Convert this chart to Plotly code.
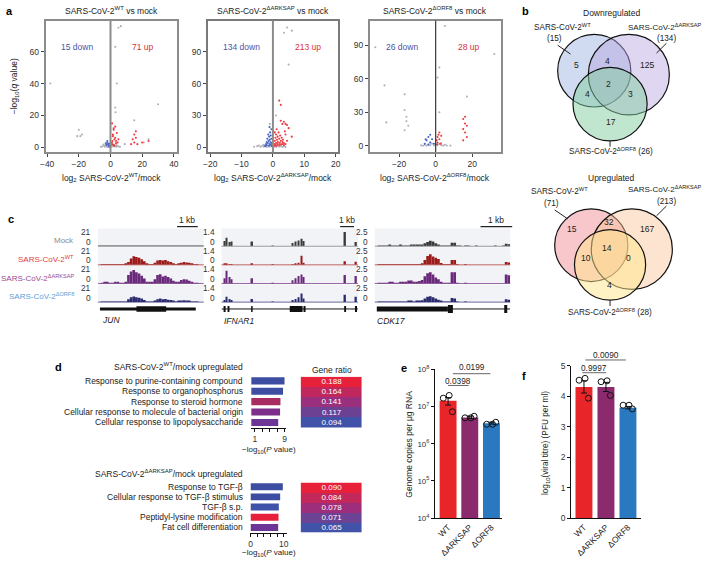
import plotly.graph_objects as go

W, H = 704, 565
FONT = "Liberation Sans, Arial, Helvetica, sans-serif"
INK = "#222222"

# ---------------- data ----------------
# Panel a: volcano points (log2 fold change, -log10 q value)
wt_gray = [(-38, 40), (5, 75), (6.5, 76), (3, 63), (4, 40), (3, 25), (3.2, 22), (15, 17), (30, 27),
           (-20, 11), (-19, 7), (-21, 7), (-18, 8), (9, 2), (21, 3), (24, 5),
           (-6, 0.3), (-5, 0.6), (-4, 1.0), (-3.5, 0.4), (-3, 1.5), (-2.5, 0.7), (-2, 2.0), (-1.5, 0.5),
           (-1, 1.2), (-0.5, 0.3), (0.5, 0.4), (1, 1.4), (1.5, 0.6), (2, 1.8), (2.5, 0.5), (3, 1.1),
           (3.5, 0.7), (4, 0.4), (5, 0.6), (6, 0.3), (-4.5, 1.8), (-2, 0.2), (0, 2.5), (2, 0.9), (4, 1.3)]
wt_red = [(1, 2), (1.2, 4), (1.5, 8), (2, 1.5), (2, 11), (2.5, 5), (3, 6), (3, 13), (3.5, 2.5), (4, 9),
          (4.5, 3), (5, 5), (1, 15), (1.5, 7), (2, 12), (0.8, 3), (2.5, 1), (3.5, 4), (14, 5), (15, 8),
          (15, 3), (16, 6), (16, 10), (17, 2), (20, 3), (24, 4), (13, 2)]
wt_blue = [(-1, 1), (-1.5, 2), (-2, 3), (-2.5, 1.5), (-3, 2.5), (-1, 0.5), (-2, 4), (-0.8, 2.2)]

ark_gray = [(4.5, 113), (3.5, 108), (6, 110), (5, 78), (-1, 22), (1, 30), (-6, 0.5), (-5, 1), (-4, 0.4),
            (-3.5, 1.2), (-3, 0.6), (-2.5, 1.8), (-2, 0.3), (-1.5, 1), (-1, 0.5), (0.5, 0.8), (1, 0.3),
            (1.5, 1.4), (2, 0.5), (2.5, 1), (3, 0.4), (3.5, 0.8), (4, 0.3), (-4.5, 1.6), (-3, 2.2),
            (0, 1.5), (-0.5, 2.5)]
ark_red = [(0.3, 1), (0.5, 3), (0.6, 6), (0.8, 2), (0.8, 9), (1, 4), (1, 12), (1.2, 1.5), (1.3, 7), (1.5, 3),
           (1.5, 10), (1.6, 5), (1.8, 14), (2, 2), (2, 8), (2.2, 4), (2.3, 11), (2.5, 6), (2.6, 2.5), (2.8, 9),
           (3, 3), (3, 5), (3.2, 7), (3.5, 2), (3.5, 4), (4, 3), (4, 12), (4.5, 6), (5, 18), (6, 10),
           (2, 44), (2.5, 40), (2.5, 25), (3, 22), (3.5, 24), (4, 22), (4.5, 21), (3.8, 15), (1.2, 17), (0.6, 14)]
ark_blue = [(-0.3, 1), (-0.4, 4), (-0.5, 8), (-0.6, 2), (-0.7, 11), (-0.8, 5), (-0.9, 14), (-1, 3), (-1, 7),
            (-1.2, 10), (-1.3, 1.5), (-1.4, 6), (-1.5, 12), (-1.6, 4), (-1.8, 8), (-2, 2), (-2, 5),
            (-2.2, 3), (-2.5, 1), (-0.5, 17), (-1.1, 19)]

orf8_gray = [(-33, 88), (-28, 54), (-27, 21), (-17, 46), (-17, 32), (-16, 26), (-16, 22), (-17, 14), (-15, 18),
             (5, 107), (32, 82), (17, 44), (2, 70), (1, 61), (2, 30), (-8, 0.5), (-6, 1), (-5, 0.3),
             (-4, 1.5), (-3, 0.6), (-2, 2), (-1, 0.4), (0, 1.2), (1, 0.5), (2, 1.8), (3, 0.7), (4, 0.3),
             (5, 1), (6, 0.4), (8, 0.3), (-3, 3), (3, 2.5), (-7, 0.2)]
orf8_red = [(16, 26), (15, 24), (16, 20), (15, 15), (17, 18), (16, 12), (17, 8), (15, 5), (0.5, 5), (1, 8),
            (1.5, 10), (2, 6), (1, 3), (2.5, 2), (3, 9), (0.8, 1.5), (2, 12)]
orf8_blue = [(-5, 5), (-4, 8), (-3, 3), (-6, 2), (-4, 1), (-2, 6), (-1, 2), (-3, 10), (-5.5, 6)]

volcano_titles = ["SARS-CoV-2<sup>WT</sup> vs mock", "SARS-CoV-2<sup>ΔARKSAP</sup> vs mock",
                  "SARS-CoV-2<sup>ΔORF8</sup> vs mock"]
volcano_xtitles = ["log<sub>2</sub> SARS-CoV-2<sup>WT</sup>/mock", "log<sub>2</sub> SARS-CoV-2<sup>ΔARKSAP</sup>/mock",
                   "log<sub>2</sub> SARS-CoV-2<sup>ΔORF8</sup>/mock"]
down_counts = [15, 134, 26]
up_counts = [71, 213, 28]

# Panel b: Venn region counts  (A only, AB, B only, ABC, AC, BC, C only)
venn_down = [5, 4, 125, 2, 4, 3, 17]
venn_up = [15, 32, 167, 14, 10, 0, 4]

# Panel c: coverage tracks
samples = ["Mock", "SARS-CoV-2<sup>WT</sup>", "SARS-CoV-2<sup>ΔARKSAP</sup>", "SARS-CoV-2<sup>ΔORF8</sup>"]
jun_mock = [0.1, 0.1, 0.2, 0.2, 0.1, 0.1, 0.2, 0.1, 0.1, 0.1, 0.1, 0.2, 0.2, 0.3, 0.9, 0.3, 0.2, 0.1, 0.1, 0.1,
            0.1, 0.1, 0.2, 0.2, 0.1, 0.2, 0.2, 0.1, 0.1, 0.1, 0.1, 0.1, 0.2, 0.1, 0.1, 0.1, 0.1, 0.1, 0.1, 0.1]
jun_wt = [0, 0.3, 0.8, 0.5, 0.2, 0.3, 0.8, 0.4, 0.2, 0.2, 1, 4, 9, 12, 11, 10, 8, 5, 1, 0.5,
          0.5, 3, 6, 7, 6, 7, 5, 4, 2, 0.8, 1.5, 3, 4, 3.5, 3, 1.5, 0.4, 0.2, 0, 0]
jun_ark = [0, 0.5, 1.5, 1, 0.5, 0.5, 1.5, 1, 0.5, 0.5, 2, 12, 17, 19, 16, 14, 11, 7, 2, 1,
           1, 6, 12, 13, 10, 11, 9, 7, 4, 1.5, 2.5, 5, 6, 5.5, 4, 2, 0.5, 0.3, 0, 0]
jun_orf8 = [0, 0.2, 0.5, 0.3, 0.2, 0.2, 0.5, 0.3, 0.2, 0.2, 0.6, 4, 7, 8, 7, 6, 5, 3, 0.6, 0.3,
            0.3, 2, 4, 5, 4, 4.5, 3.5, 3, 1.5, 0.5, 1, 2, 2.5, 2, 1.5, 0.8, 0.3, 0.1, 0, 0]

ifnar_pos = [2.2, 3.6, 5.8, 7.2, 22.5, 37.7, 52.2, 54.3, 56.5, 58.7, 60.1, 90.6, 98.6]
ifnar_mock = [0.5, 0.8, 0.4, 0.45, 0.45, 0.05, 0.3, 0.45, 0.55, 0.7, 0.5, 1.35, 0.4]
ifnar_wt = [0.1, 0.15, 0.05, 0.05, 0.1, 0.03, 0.05, 0.1, 0.2, 0.85, 0.2, 0.35, 0.3]
ifnar_ark = [0.5, 1.2, 0.6, 0.4, 0.5, 0.05, 0.3, 0.5, 0.7, 0.85, 0.6, 0.8, 0.7]
ifnar_orf8 = [0.2, 0.5, 0.3, 0.2, 0.3, 0.03, 0.2, 0.3, 0.45, 0.8, 0.35, 0.7, 0.5]

cdk_mock = [0, 0.05, 0.1, 0.05, 0.1, 0.15, 0.1, 0.05, 0.1, 0.15,
            0.1, 0.05, 0.1, 0.15, 0.2, 0.15, 0.2, 0.3, 0.5, 0.7,
            0.9, 0.8, 0.5, 0.3, 0.1, 0.05, 0.05, 0.02, 0.6, 0.6,
            0.05, 0.02, 0, 0.05, 0.02, 0, 0, 0.02, 0, 0,
            0, 0, 0, 0, 0.02, 0, 0, 0.02, 0.4, 0.35]
cdk_wt = [0, 0.02, 0.05, 0.02, 0.05, 0.05, 0.05, 0.02, 0.05, 0.05,
          0.05, 0.02, 0.05, 0.05, 0.1, 0.05, 0.1, 0.2, 0.8, 1.5,
          1.8, 1.4, 1.2, 1.0, 0.3, 0.05, 0.03, 0.02, 0.8, 0.8,
          0.02, 0, 0, 0.02, 0, 0, 0, 0, 0, 0,
          0, 0, 0, 0, 0, 0, 0, 0, 0.5, 0.4]
cdk_ark = [0, 0.05, 0.1, 0.1, 0.1, 0.2, 0.15, 0.1, 0.1, 0.2,
           0.15, 0.2, 0.5, 0.5, 0.2, 0.3, 0.4, 0.6, 1.2, 1.7,
           1.9, 1.5, 1.0, 0.7, 0.3, 0.1, 0.05, 0.05, 1.9, 1.9,
           0.05, 0, 0, 0.05, 0, 0, 0, 0, 0, 0,
           0, 0, 0, 0, 0, 0, 0, 0, 1.5, 1.4]
cdk_orf8 = [0, 0.03, 0.08, 0.05, 0.08, 0.1, 0.08, 0.05, 0.08, 0.1,
            0.08, 0.05, 0.2, 0.2, 0.1, 0.15, 0.2, 0.3, 0.6, 0.9,
            1.0, 0.8, 0.6, 0.4, 0.15, 0.05, 0.03, 0.02, 0.7, 0.6,
            0.03, 0, 0, 0.03, 0, 0, 0, 0, 0, 0,
            0, 0, 0, 0, 0, 0, 0, 0, 0.5, 0.4]
track_max = [21, 1.4, 2.5]
track_max_labels = ["21", "1.4", "2.5"]
gene_names = ["JUN", "IFNAR1", "CDK17"]

# gene models (genomic units 0-100 within each window)
jun_utr = [(1.9, 92.5)]
jun_cds = [(36.4, 64.5)]
ifnar_exons = [(1.5, 3.0), (4.4, 5.8), (21.7, 22.8), (50.0, 59.4), (60.1, 61.6), (89.9, 91.3), (97.8, 99.3)]
cdk_cds = [(1.5, 54.0)]
cdk_exons = [(54.0, 57.7), (95.6, 97.8)]

# Panel d
d1_terms = ["Response to purine-containing compound", "Response to organophosphorus",
            "Response to steroid hormone", "Cellular response to molecule of bacterial origin",
            "Cellular response to lipopolysaccharide"]
d1_vals = [9.0, 8.6, 7.9, 7.8, 7.3]
d1_ratio = [0.188, 0.164, 0.141, 0.117, 0.094]
d1_colors = ["#3d4ea2", "#3d4ea2", "#a82c62", "#7d2e8a", "#6c3596"]
d2_terms = ["Response to TGF-β", "Cellular response to TGF-β stimulus", "TGF-β s.p.",
            "Peptidyl-lysine modification", "Fat cell differentiation"]
d2_vals = [9.7, 8.9, 8.5, 8.4, 8.3]
d2_ratio = [0.090, 0.084, 0.078, 0.071, 0.065]
d2_colors = ["#3d4ea2", "#3d4ea2", "#3d52a8", "#e8213a", "#6c3596"]

# Panels e, f
virus = ["WT", "ΔARKSAP", "ΔORF8"]
virus_colors = ["#e8262a", "#8c2a6e", "#2a78c0"]
e_mean = [1.45e7, 5.1e6, 3.6e6]
e_err_plus = [0.3e7, 0.4e6, 0.2e6]
e_err_minus = [0.35e7, 0.3e6, 0.2e6]
e_points = [[1.69e7, 2.0e7, 7.3e6], [5.0e6, 5.0e6, 5.5e6], [3.35e6, 3.35e6, 3.8e6]]
f_mean = [4.3, 4.3, 3.62]
f_err = [0.2, 0.15, 0.04]
f_points = [[4.52, 4.58, 3.93], [4.47, 4.50, 4.02], [3.70, 3.70, 3.58]]
jitter = [-0.22, 0.05, 0.2]


# ---------------- helpers ----------------
def fx(p):
    return p / W


def fy(p):
    return 1 - p / H


layout = {}
annotations = []
shapes = []
fig = go.Figure()


def axes(i, xpx, ypx, xkw=None, ykw=None):
    s = "" if i == 1 else str(i)
    xd = dict(domain=[fx(xpx[0]), fx(xpx[1])], anchor="y" + s, showgrid=False, zeroline=False)
    yd = dict(domain=[fy(ypx[1]), fy(ypx[0])], anchor="x" + s, showgrid=False, zeroline=False)
    xd.update(xkw or {})
    yd.update(ykw or {})
    layout["xaxis" + s] = xd
    layout["yaxis" + s] = yd
    return "x" + s, "y" + s


def text(x, y, s, size=8.5, color=INK, xanchor="center", yanchor="middle", angle=0, xref="paper", yref="paper"):
    annotations.append(dict(x=fx(x) if xref == "paper" else x, y=fy(y) if yref == "paper" else y,
                            xref=xref, yref=yref, text=s, showarrow=False, textangle=angle,
                            font=dict(size=size, color=color, family=FONT),
                            xanchor=xanchor, yanchor=yanchor))


def pline(x0, y0, x1, y1, color=INK, width=1):
    shapes.append(dict(type="line", xref="paper", yref="paper", x0=fx(x0), y0=fy(y0), x1=fx(x1), y1=fy(y1),
                       line=dict(color=color, width=width)))


def circle(cx, cy, r, fill):
    shapes.append(dict(type="circle", xref="paper", yref="paper", x0=fx(cx - r), x1=fx(cx + r),
                       y0=fy(cy + r), y1=fy(cy - r), fillcolor=fill, line=dict(color="#111111", width=1.2)))


tickfont = dict(size=8.5, color="#333333", family=FONT)

# ---------------- panel a ----------------
vol_sets = [(wt_gray, wt_red, wt_blue), (ark_gray, ark_red, ark_blue), (orf8_gray, orf8_red, orf8_blue)]
vol_x = [(40, 173), (204, 336), (368, 500.6)]
vol_xrange = [[-41, 42], [-20.8, 20.8], [-36, 35.6]]
vol_yrange = [[-3, 79.4], [-4.6, 119.4], [-5.5, 111.7]]
vol_xt = [[-40, -20, 0, 20, 40], [-20, -10, 0, 10, 20], [-20, 0, 20]]
vol_yt = [[0, 20, 40, 60], [0, 30, 60, 90], [0, 30, 60, 90]]
label_pos = [((-21, 62.8), (20.8, 62.8)), ((-10.1, 94.7), (11.3, 94.7)), ((-18.5, 88), (18, 88))]
frame_col = ["#8c8c8c", "#7a7a7a", "#8c8c8c"]
for k in range(3):
    style = dict(showline=True, mirror=True, linecolor=frame_col[k], linewidth=1.6, ticks="outside",
                 ticklen=3, tickcolor="#444", tickfont=tickfont)
    xa, ya = axes(k + 1, vol_x[k], (15, 149),
                  dict(range=vol_xrange[k], tickvals=vol_xt[k], **style),
                  dict(range=vol_yrange[k], tickvals=vol_yt[k], **style))
    g, r, b = vol_sets[k]
    for pts, col in ((g, "#b0b0ba"), (b, "#4466c4"), (r, "#ee3a40")):
        fig.add_trace(go.Scatter(x=[p[0] for p in pts], y=[p[1] for p in pts], mode="markers",
                                 marker=dict(size=2.1, color=col), xaxis=xa, yaxis=ya, hoverinfo="skip"))
    zcol, zw = ("#8c8c8c", 2) if k < 2 else ("#111111", 1)
    shapes.append(dict(type="line", xref=xa, yref=ya + " domain", x0=0, x1=0, y0=0, y1=1,
                       line=dict(color=zcol, width=zw)))
    cx = (vol_x[k][0] + vol_x[k][1]) / 2
    text(cx, 5, volcano_titles[k], size=8.5)
    text(cx, 175, volcano_xtitles[k], size=8.5)
    (dx, dy), (ux, uy) = label_pos[k]
    text(dx, dy, f"{down_counts[k]} down", size=8.5, color="#4a55a8", xref=xa, yref=ya)
    text(ux, uy, f"{up_counts[k]} up", size=8.5, color="#d8303a", xref=xa, yref=ya)

text(9, 82, "−log<sub>10</sub>(<i>q</i> value)", size=8.5, angle=-90)


# ---------------- panel b ----------------
def venn(title, ty, circles, fills, counts, cpos, totals, lab):
    text(612, ty, title, size=8.5)
    for (cx, cy, r), f in zip(circles, fills):
        circle(cx, cy, r, f)
    for c, (x, y) in zip(counts, cpos):
        text(x, y, str(c), size=8.5)
    (la, lb, lc) = lab
    text(la[0], la[1], "SARS-CoV-2<sup>WT</sup>", size=8.2)
    text(la[0] - 8, la[1] + 12, f"({totals[0]})", size=8.2)
    pline(la[0] - 5, la[1] + 19, la[0] + 8, la[1] + 28)
    text(lb[0], lb[1], "SARS-CoV-2<sup>ΔARKSAP</sup>", size=8)
    text(lb[0] + 2, lb[1] + 12, f"({totals[1]})", size=8.2)
    pline(lb[0] + 2, lb[1] + 17, lb[0] - 8, lb[1] + 27)
    cx, cy, r = circles[2]
    pline(cx, cy + r, cx, cy + r + 6)
    text(lc[0], lc[1], f"SARS-CoV-2<sup>ΔORF8</sup> ({totals[2]})", size=8.2)


venn("Downregulated", 7, [(595, 66, 37), (630, 70, 41), (611, 100, 37.5)],
     ["rgba(150,175,225,0.45)", "rgba(185,165,225,0.45)", "rgba(130,205,160,0.5)"],
     venn_down, [(577, 60), (608, 56), (648, 60), (609, 80), (588, 90), (632, 90), (612, 118)],
     down_counts, ((563, 21), (666, 21), (612, 148)))
venn("Upregulated", 175, [(592, 244, 37), (633, 248, 41), (611, 264, 36)],
     ["rgba(240,130,140,0.45)", "rgba(248,195,150,0.45)", "rgba(255,232,140,0.5)"],
     venn_up, [(573, 227), (610, 220), (648, 227), (608, 247), (587, 257), (630, 257), (610, 285)],
     up_counts, ((560, 189), (666, 187), (611, 312)))

# ---------------- panel c ----------------
col_x = [(93, 200), (218, 356), (373, 510)]
row_top = [228, 247, 266, 285]
row_h = 17
track_cols = ["#3a3a3a", "#9b1b1b", "#6a2a7a", "#2a2a6e"]
label_cols = ["#8a8a8a", "#e0403e", "#9a4a90", "#5aa0d8"]
jun_bins = [1.34 + 2.5 * i for i in range(len(jun_wt))]
cdk_bins = [1 + 2 * i for i in range(len(cdk_wt))]
track_data = [
    [(jun_bins, jun_mock, 2.5), (jun_bins, jun_wt, 2.5), (jun_bins, jun_ark, 2.5), (jun_bins, jun_orf8, 2.5)],
    [(ifnar_pos, ifnar_mock, 1.1), (ifnar_pos, ifnar_wt, 1.1), (ifnar_pos, ifnar_ark, 1.1), (ifnar_pos, ifnar_orf8, 1.1)],
    [(cdk_bins, cdk_mock, 2), (cdk_bins, cdk_wt, 2), (cdk_bins, cdk_ark, 2), (cdk_bins, cdk_orf8, 2)],
]
model_axes = []
for gi in range(3):
    for ri in range(4):
        idx = 4 + gi * 4 + ri
        top = row_top[ri]
        xa, ya = axes(idx, col_x[gi], (top, top + row_h),
                      dict(range=[0, 100], visible=False),
                      dict(range=[0, track_max[gi] * 1.12], visible=False))
        shapes.append(dict(type="rect", xref="paper", yref="paper", layer="below",
                           x0=fx(col_x[gi][0]), x1=fx(col_x[gi][1]), y0=fy(top + row_h), y1=fy(top - 1),
                           fillcolor="#f2f3f7", line=dict(width=0)))
        bx, by, bw = track_data[gi][ri]
        fig.add_trace(go.Bar(x=bx, y=by, width=bw, marker=dict(color=track_cols[ri], line=dict(width=0)),
                             xaxis=xa, yaxis=ya, hoverinfo="skip"))
        shapes.append(dict(type="line", xref="paper", yref="paper", x0=fx(col_x[gi][0]), x1=fx(col_x[gi][1]),
                           y0=fy(top + row_h), y1=fy(top + row_h),
                           line=dict(color="#9a9a9a" if ri == 0 else track_cols[ri], width=1.2 if ri == 0 else 0.7)))
        # scale labels (max and 0)
        text(col_x[gi][0] - 5, top + 2.5, track_max_labels[gi], size=8.3, color="#333", xanchor="right")
        text(col_x[gi][0] - 5, top + 12.5, "0", size=8.3, color="#333", xanchor="right")
        if ri == 3:
            model_axes.append(xa)
for ri in range(4):
    text(71, row_top[ri] + 11, samples[ri], size=8, color=label_cols[ri], xanchor="right")

ymod = fy(309)


def gbox(xa, a, b, hpx):
    shapes.append(dict(type="rect", xref=xa, yref="paper", x0=a, x1=b, y0=fy(309 + hpx / 2), y1=fy(309 - hpx / 2),
                       fillcolor="#111111", line=dict(width=0)))


for a, b in jun_utr:
    gbox(model_axes[0], a, b, 3)
for a, b in jun_cds:
    gbox(model_axes[0], a, b, 5.5)
shapes.append(dict(type="line", xref=model_axes[1], yref="paper", x0=0, x1=100, y0=ymod, y1=ymod,
                   line=dict(color="#111", width=1)))
for a, b in ifnar_exons:
    gbox(model_axes[1], a, b, 6)
for a, b in cdk_cds:
    gbox(model_axes[2], a, b, 5)
shapes.append(dict(type="line", xref=model_axes[2], yref="paper", x0=54, x1=100, y0=ymod, y1=ymod,
                   line=dict(color="#111", width=1)))
for a, b in cdk_exons:
    gbox(model_axes[2], a, b, 8)

text(95, 320, "<i>JUN</i>", size=8.5, xanchor="left")
text(218, 321, "<i>IFNAR1</i>", size=8.5, xanchor="left")
text(373, 321, "<i>CDK17</i>", size=8.5, xanchor="left")
for (a, b), yy in (((173, 194), 225), ((338, 352), 225), ((480, 512), 225)):
    pline(a, yy, b, yy, color="#222", width=1.2)
    text((a + b) / 2, yy - 7, "1 kb", size=8.5)

# ---------------- panel d ----------------
d_specs = [(16, 18, (248, 283.6), (377, 430), [0, 9.5], [1, 3, 5, 7, 9], ["1", "", "", "", "9"],
            d1_terms, d1_vals, d1_colors, d1_ratio, "SARS-CoV-2<sup>WT</sup>/mock upregulated", 368, 453),
           (17, 19, (247.3, 284.4), (485, 537), [0, 11], [0, 2, 4, 6, 8, 10], ["0", "", "", "", "", "10"],
            d2_terms, d2_vals, d2_colors, d2_ratio, "SARS-CoV-2<sup>ΔARKSAP</sup>/mock upregulated", 477, 558)]
for (bi, hi, xpx, ypx, xr, tv, tt, terms, vals, cols, ratio, title, ty, aty) in d_specs:
    n = len(terms)
    xa, ya = axes(bi, xpx, ypx,
                  dict(range=xr, tickvals=tv, ticktext=tt, showline=True, linecolor="#111", linewidth=1,
                       ticks="outside", ticklen=3, tickcolor="#111", tickfont=tickfont),
                  dict(range=[n - 0.5, -0.5], visible=False))
    fig.add_trace(go.Bar(y=list(range(n)), x=vals, orientation="h", width=0.68,
                         marker=dict(color=cols, line=dict(width=0)), xaxis=xa, yaxis=ya, hoverinfo="skip"))
    for i, t in enumerate(terms):
        text(242, 0, t, size=8.5, xanchor="right", yref=ya)
        annotations[-1]["y"] = i
    text(242, ty, title, size=8.5, xanchor="right")
    text((xpx[0] + xpx[1]) / 2, aty, "−log<sub>10</sub>(<i>P</i> value)", size=8)
    ha, hy = axes(hi, (298, 360), (ypx[0] + 1, ypx[1]),
                  dict(range=[-0.5, 0.5], visible=False), dict(range=[n - 0.5, -0.5], visible=False))
    fig.add_trace(go.Heatmap(z=[[v] for v in ratio], x=[0], y=list(range(n)),
                             text=[[f"{v:.3f}"] for v in ratio], texttemplate="%{text}",
                             textfont=dict(color="white", size=8, family=FONT),
                             colorscale=[[0, "#4053a8"], [0.5, "#9a2f7e"], [1, "#e8213a"]],
                             zmin=min(ratio), zmax=max(ratio), showscale=False, xaxis=ha, yaxis=hy,
                             hoverinfo="skip"))
text(330, 371, "Gene ratio", size=8.5)

# ---------------- panels e & f ----------------
cat_style = dict(showline=True, linecolor="#111", linewidth=1, ticks="", tickangle=-45,
                 tickvals=[0, 1, 2], ticktext=virus, tickfont=dict(size=8.5, color="#222", family=FONT))
xa, ya = axes(20, (434, 502), (370.7, 522.3), dict(range=[-0.6, 2.5], **cat_style),
              dict(type="log", range=[4, 8], tickvals=[1e4, 1e5, 1e6, 1e7, 1e8],
                   ticktext=["10<sup>4</sup>", "10<sup>5</sup>", "10<sup>6</sup>", "10<sup>7</sup>", "10<sup>8</sup>"],
                   showline=True, linecolor="#111", linewidth=1, ticks="outside", ticklen=3, tickcolor="#111",
                   tickfont=dict(size=8, color="#333", family=FONT)))
fig.add_trace(go.Bar(x=[0, 1, 2], y=e_mean, width=0.78, marker=dict(color=virus_colors, line=dict(width=0)),
                     error_y=dict(type="data", symmetric=False, array=e_err_plus, arrayminus=e_err_minus,
                                  color="#111", thickness=1, width=3),
                     xaxis=xa, yaxis=ya, hoverinfo="skip"))
for i, pts in enumerate(e_points):
    fig.add_trace(go.Scatter(x=[i + j for j in jitter], y=pts, mode="markers", xaxis=xa, yaxis=ya,
                             marker=dict(symbol="circle-open", size=6, color="#111", line=dict(width=1)),
                             hoverinfo="skip"))
text(408, 447, "Genome copies per μg RNA", size=8.5, angle=-90)
pline(447, 387, 468, 387, color="#666", width=1)
text(457.5, 382, "0.0398", size=8.3)
pline(452, 375, 490, 375, color="#666", width=1)
text(471, 368.5, "0.0199", size=8.3)

xa, ya = axes(21, (571.7, 642), (366.7, 522.3), dict(range=[-0.58, 2.58], **cat_style),
              dict(range=[0, 5], tickvals=[0, 1, 2, 3, 4, 5], showline=True, linecolor="#111", linewidth=1,
                   ticks="outside", ticklen=3, tickcolor="#111", tickfont=dict(size=8.5, color="#333", family=FONT)))
fig.add_trace(go.Bar(x=[0, 1, 2], y=f_mean, width=0.77, marker=dict(color=virus_colors, line=dict(width=0)),
                     error_y=dict(type="data", array=f_err, color="#111", thickness=1, width=3),
                     xaxis=xa, yaxis=ya, hoverinfo="skip"))
for i, pts in enumerate(f_points):
    fig.add_trace(go.Scatter(x=[i + j for j in jitter], y=pts, mode="markers", xaxis=xa, yaxis=ya,
                             marker=dict(symbol="circle-open", size=6, color="#111", line=dict(width=1)),
                             hoverinfo="skip"))
text(546, 446, "log<sub>10</sub>(viral titre) (PFU per ml)", size=8.3, angle=-90)
pline(583, 374, 607, 374, color="#666", width=1)
text(595, 369, "0.9997", size=8.3)
pline(586, 361, 627, 361, color="#666", width=1)
text(607, 355.5, "0.0090", size=8.3)

# panel letters
for s, x, y in (("a", 4, 5), ("b", 525, 5), ("c", 5, 217), ("d", 53, 368), ("e", 403, 369), ("f", 524, 377)):
    text(x, y, f"<b>{s}</b>", size=11, color="#000")

fig.update_layout(width=W, height=H, margin=dict(l=0, r=0, t=0, b=0), showlegend=False,
                  paper_bgcolor="white", plot_bgcolor="white", font=dict(family=FONT, size=8.5, color=INK),
                  annotations=annotations, shapes=shapes, **layout)
fig.write_html("out.html", config={"displayModeBar": False},
               post_script="document.body.style.margin='0';document.body.style.overflow='hidden';")
